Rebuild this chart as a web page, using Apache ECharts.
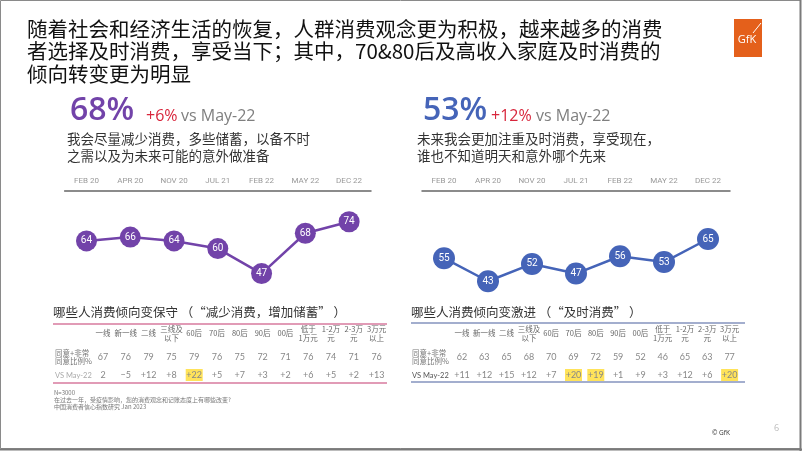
<!DOCTYPE html>
<html><head><meta charset="utf-8">
<script src="https://cdn.jsdelivr.net/npm/echarts@6/dist/echarts.min.js"></script>
<style>html,body{margin:0;padding:0;background:#fff}#c{width:802px;height:451px}</style>
</head><body><div id="c"></div>
<script>
// ---------- data ----------
const periods = ['FEB 20','APR 20','NOV 20','JUL 21','FEB 22','MAY 22','DEC 22'];
const saveValues = [64,66,64,60,47,68,74];
const spendValues = [55,43,52,47,56,53,65];
const titleLines = ['随着社会和经济生活的恢复，人群消费观念更为积极，越来越多的消费','者选择及时消费，享受当下；其中，70&80后及高收入家庭及时消费的','倾向转变更为明显'];
const saveHeadline = '68%';
const saveDelta = '+6%';
const spendHeadline = '53%';
const spendDelta = '+12%';
const vsText = 'vs May-22';
const saveStatement = ['我会尽量减少消费，多些储蓄，以备不时','之需以及为未来可能的意外做准备'];
const spendStatement = ['未来我会更加注重及时消费，享受现在，','谁也不知道明天和意外哪个先来'];
const saveTableTitle = '哪些人消费倾向变保守 （“减少消费，增加储蓄” ）';
const spendTableTitle = '哪些人消费倾向变激进 （“及时消费” ）';
const tableCols = [['一线'],['新一线'],['二线'],['三线及','以下'],['60后'],['70后'],['80后'],['90后'],['00后'],['低于','1万元'],['1-2万','元'],['2-3万','元'],['3万元','以上']];
const rowLabels = [['同意+非常','同意比例%'],['VS May-22']];
const saveAgree = [67,76,79,75,79,76,75,72,71,76,74,71,76];
const saveChange = ['2','−5','+12','+8','+22','+5','+7','+3','+2','+6','+5','+2','+13'];
const saveHighlight = [4];
const spendAgree = [62,63,65,68,70,69,72,59,52,46,65,63,77];
const spendChange = ['+11','+12','+15','+12','+7','+20','+19','+1','+9','+3','+12','+6','+20'];
const spendHighlight = [5,6,12];
const footnotes = ['N=3000','在过去一年，受疫情影响，您的消费观念和记账态度上有哪些改变?','中国消费者信心指数研究 Jan 2023'];

// ---------- drawing ----------
const CJK = '"Noto Sans CJK SC", "Noto Sans", sans-serif';
const LAT = '"Open Sans", "Noto Sans", sans-serif';
const PURPLE = '#7243A9', BLUE = '#4564B8', RED = '#D8263C';
const g = [];
function txt(x, y, text, size, color, opts) {
  opts = opts || {};
  g.push({type:'text', x:x, y:y, z:10, style:{text:text, fill:color,
    font:(opts.weight||'normal')+' '+size+'px '+(opts.family||CJK),
    textAlign:opts.align||'left', textVerticalAlign:'middle'}});
}
// frame
g.push({type:'rect', shape:{x:0.5,y:0.5,width:800,height:448}, style:{fill:'none', stroke:'#8a8a8a', lineWidth:1}});
g.push({type:'line', shape:{x1:800.5,y1:0,x2:800.5,y2:451}, style:{stroke:'#7a7a7a', lineWidth:2}});
g.push({type:'line', shape:{x1:0,y1:449.5,x2:802,y2:449.5}, style:{stroke:'#7a7a7a', lineWidth:2}});
// title
titleLines.forEach((t,i)=>txt(27, 29 + i*22.5, t, 20.5, '#111'));
// logo
g.push({type:'rect', shape:{x:734,y:19,width:28,height:38}, style:{fill:'#E4601B'}});
txt(747, 40, 'GfK', 11, '#fff', {family:LAT, align:'center'});
g.push({type:'line', shape:{x1:753,y1:33,x2:761,y2:23}, style:{stroke:'#fff', lineWidth:1}});
// headlines
function headline(x, big, delta, deltaX, vsX, color, stmt, stX) {
  txt(x, 111, big, 32, color, {family:LAT, weight:'600'});
  txt(deltaX, 116, delta, 16, RED, {family:LAT});
  txt(vsX, 116, vsText, 16, '#7f7f7f', {family:LAT});
  stmt.forEach((s,i)=>txt(stX, 139 + i*16.5, s, 13.5, '#333'));
}
headline(70, saveHeadline, saveDelta, 146, 181, PURPLE, saveStatement, 67);
headline(423, spendHeadline, spendDelta, 491, 536, BLUE, spendStatement, 417);
// tables
function table(cfg) {
  txt(cfg.x1, 312, cfg.title, 12.5, '#333');
  g.push({type:'line', shape:{x1:cfg.x1, y1:cfg.top, x2:cfg.x2, y2:cfg.top}, style:{stroke:cfg.lineColor, lineWidth:1.3}});
  g.push({type:'line', shape:{x1:cfg.x1, y1:cfg.bottom, x2:cfg.x2, y2:cfg.bottom}, style:{stroke:cfg.lineColor, lineWidth:1.3}});
  tableCols.forEach((c,i)=>{
    const cx = cfg.c0 + i*cfg.step;
    if (c.length === 1) txt(cx, 333, c[0], 7.5, '#666', {align:'center'});
    else { txt(cx, 329, c[0], 7.5, '#666', {align:'center'}); txt(cx, 338, c[1], 7.5, '#666', {align:'center'}); }
    txt(cx, 357, String(cfg.agree[i]), 9, '#888', {family:'Lato', align:'center'});
    if (cfg.hl.indexOf(i) >= 0)
      g.push({type:'rect', z:5, shape:{x:cx-8.5, y:369, width:17, height:12}, style:{fill:'#FFE35A'}});
    txt(cx, 375.5, cfg.change[i], 9, '#888', {family:'Lato', align:'center'});
  });
  txt(cfg.lx, 353, rowLabels[0][0], 7.5, '#777');
  txt(cfg.lx, 361, rowLabels[0][1], 7.5, '#777');
  txt(cfg.lx, 375.5, rowLabels[1][0], 7.5, cfg.vsColor, {family:'Lato'});
}
table({title:saveTableTitle, x1:53, x2:387, top:324, bottom:383, lineColor:'#D77A9E', c0:103, step:22.8, lx:55,
  agree:saveAgree, change:saveChange, hl:saveHighlight, vsColor:'#aaa'});
table({title:spendTableTitle, x1:411, x2:745, top:323, bottom:382, lineColor:'#8593BE', c0:462, step:22.3, lx:412,
  agree:spendAgree, change:spendChange, hl:spendHighlight, vsColor:'#555'});
// footnotes
footnotes.forEach((f,i)=>txt(54, 393 + i*7, f, 6, '#777'));
txt(712, 433, '© GfK', 6.5, '#333', {family:LAT});
txt(774, 428, '6', 9, '#bbb', {family:LAT});

function axisX(i) {
  return {type:'category', gridIndex:i, position:'top', data:periods, boundaryGap:true,
    axisTick:{show:false}, axisLine:{lineStyle:{color:'#666', width:1.5}},
    axisLabel:{margin:6, fontSize:8, color:'#999', fontFamily:'Roboto'}};
}
function axisY(i) { return {type:'value', gridIndex:i, min:40, max:90, show:false}; }
function lineSeries(i, data, color, size) {
  return {type:'line', xAxisIndex:i, yAxisIndex:i, data:data, symbol:'circle', symbolSize:size,
    lineStyle:{color:color, width:2.5}, itemStyle:{color:color}, z:3,
    label:{show:true, position:'inside', color:'#fff', fontSize:10, fontFamily:'Roboto'}};
}
const chart = echarts.init(document.getElementById('c'), null, {renderer:'canvas'});
chart.setOption({
  backgroundColor:'#fff', animation:false,
  grid:[{left:64.6, width:306.4, top:191, height:96}, {left:422, width:308, top:191, height:96}],
  xAxis:[axisX(0), axisX(1)],
  yAxis:[axisY(0), axisY(1)],
  series:[lineSeries(0, saveValues, PURPLE, 21), lineSeries(1, spendValues, BLUE, 22)],
  graphic:g
});
</script></body></html>
